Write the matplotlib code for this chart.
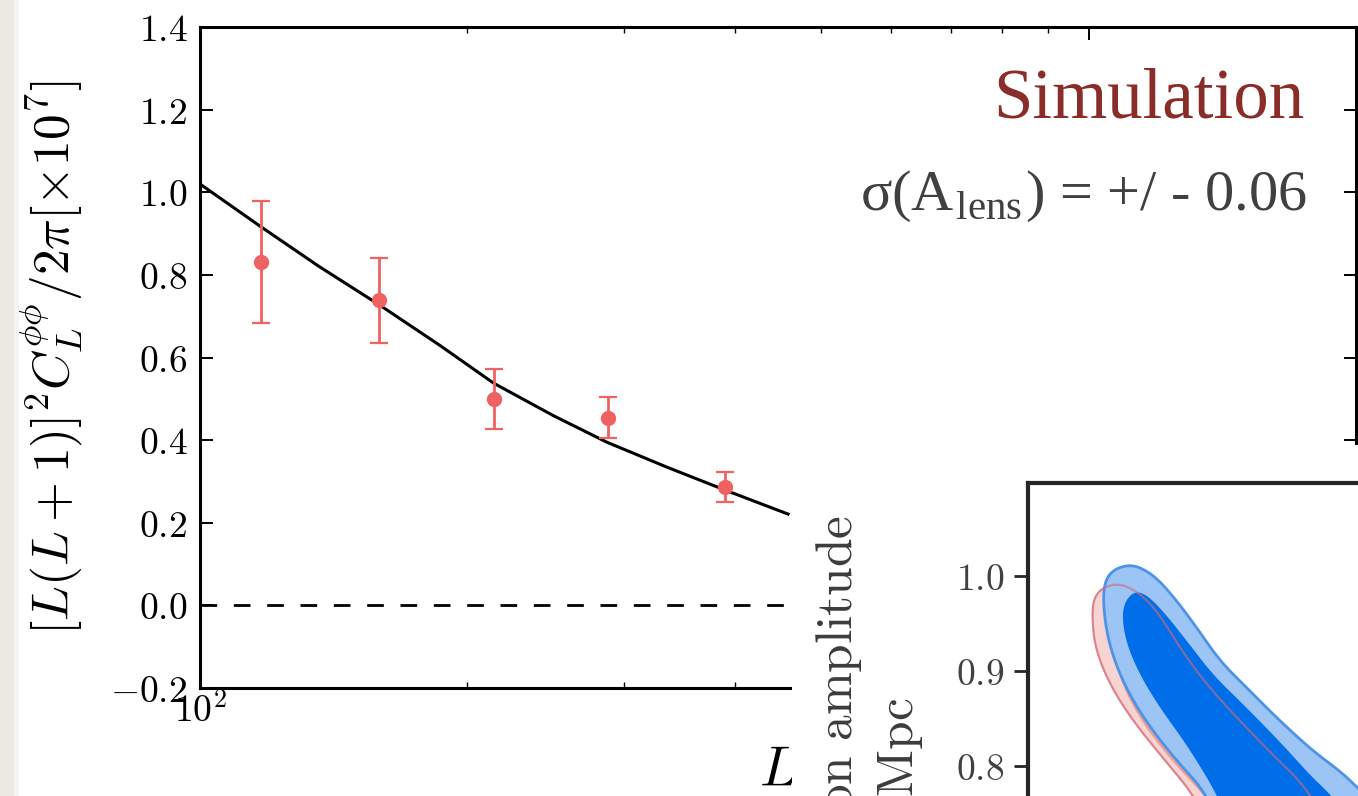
import numpy as np
import matplotlib
matplotlib.use('Agg')
import matplotlib.pyplot as plt
from matplotlib.patches import Rectangle
from matplotlib.ticker import FuncFormatter, LogLocator, NullFormatter, MultipleLocator

plt.rcParams['mathtext.fontset'] = 'cm'

# lensing power spectrum bandpowers (x 1e7)
ell_bins = [117, 159, 214, 288, 390]
clpp_bins = [0.831, 0.739, 0.500, 0.454, 0.287]
clpp_err = [0.147, 0.103, 0.073, 0.050, 0.037]

# theory curve
ell_theory = [100, 117, 136, 159, 186, 214, 250, 287, 335, 390, 459]
clpp_theory = [1.020, 0.917, 0.821, 0.728, 0.630, 0.538, 0.459, 0.395, 0.335, 0.279, 0.221]

# inset: contour outlines (Omega_m-like x, sigma_8 y)
blue95_x = [0.2895, 0.2745, 0.2625, 0.2525, 0.2445, 0.2395, 0.2375, 0.2385, 0.2425, 0.2495,
            0.2560, 0.2645, 0.2745, 0.2845, 0.2960, 0.3095, 0.3260, 0.3425, 0.3560, 0.3650, 0.396, 0.301]
blue95_y = [0.7705, 0.8053, 0.8368, 0.8684, 0.9032, 0.9379, 0.9737, 0.9947, 1.0063, 1.0116,
            1.0095, 0.9979, 0.9737, 0.9453, 0.9105, 0.8821, 0.8474, 0.8158, 0.7947, 0.7768, 0.7137, 0.7137]
blue68_x = [0.2945, 0.2795, 0.2660, 0.2560, 0.2495, 0.2470, 0.2485, 0.2535, 0.2595, 0.2675,
            0.2795, 0.2925, 0.3095, 0.3275, 0.3410, 0.3510, 0.366, 0.301]
blue68_y = [0.7705, 0.8221, 0.8611, 0.8958, 0.9274, 0.9558, 0.9737, 0.9842, 0.9800, 0.9632,
            0.9316, 0.8958, 0.8611, 0.8221, 0.7905, 0.7705, 0.7347, 0.7347]
pink95_x = [0.2825, 0.2675, 0.2525, 0.2410, 0.2335, 0.2320, 0.2330, 0.2370, 0.2435, 0.2495,
            0.2575, 0.2660, 0.2760, 0.2895, 0.3060, 0.3225, 0.3395, 0.350, 0.291]
pink95_y = [0.7705, 0.8084, 0.8474, 0.8853, 0.9242, 0.9589, 0.9768, 0.9874, 0.9916, 0.9895,
            0.9790, 0.9589, 0.9242, 0.8853, 0.8474, 0.8116, 0.7768, 0.7347, 0.7347]
pink68_x = [0.2875, 0.2705, 0.2565, 0.2470, 0.2430, 0.2450, 0.2540, 0.2625, 0.2790, 0.3000, 0.3250, 0.340, 0.300]
pink68_y = [0.7705, 0.8084, 0.8474, 0.8853, 0.9168, 0.9453, 0.9632, 0.9505, 0.9032, 0.8474, 0.7947, 0.7347, 0.7347]

W, H = 1358, 796


def px_rect(x0, y0, x1, y1):
    return [x0 / W, 1 - y1 / H, (x1 - x0) / W, (y1 - y0) / H]


def smooth_closed(xs, ys, n=3):
    # chaikin corner cutting, just to round off the traced outlines
    p = np.column_stack([xs, ys])
    for _ in range(n):
        nxt = np.roll(p, -1, axis=0)
        q = 0.75 * p + 0.25 * nxt
        r = 0.25 * p + 0.75 * nxt
        p = np.empty((2 * len(q), 2))
        p[0::2] = q
        p[1::2] = r
    return p[:, 0], p[:, 1]


fig = plt.figure(figsize=(W / 100, H / 100), dpi=100)

# slide edge on the left
fig.add_artist(Rectangle((0, 0), 14 / W, 1, transform=fig.transFigure,
                         facecolor='#ebe8e2', edgecolor='none', zorder=0.5))
fig.add_artist(Rectangle((14 / W, 0), 5 / W, 1, transform=fig.transFigure,
                         facecolor='#f6f4f0', edgecolor='none', zorder=0.5))

# main lensing spectrum panel
ax = fig.add_axes(px_rect(200, 27, 1356, 688))
ax.set_xscale('log')
ax.set_xlim(100, 2000)
ax.set_ylim(-0.2, 1.4)
ax.plot(ell_theory, clpp_theory, color='k', lw=2.2, zorder=3, solid_joinstyle='round')
ax.axhline(0, color='k', lw=2.0, dashes=(6, 6))
ax.errorbar(ell_bins, clpp_bins, yerr=clpp_err, fmt='o', color='#ef6262', ms=10,
            elinewidth=2.0, capsize=6.5, capthick=1.6, zorder=4)

for s in ax.spines.values():
    s.set_linewidth(2.2)
ax.yaxis.set_major_locator(MultipleLocator(0.2))
ax.yaxis.set_major_formatter(FuncFormatter(lambda v, p: f'${v:.1f}$'))
ax.xaxis.set_major_locator(LogLocator(base=10))
ax.xaxis.set_major_formatter(FuncFormatter(lambda v, p: rf'$10^{{{int(round(np.log10(v)))}}}$'))
ax.xaxis.set_minor_locator(LogLocator(base=10, subs=range(2, 10)))
ax.xaxis.set_minor_formatter(NullFormatter())
ax.tick_params(which='both', direction='in', top=True, right=True)
ax.tick_params(which='major', length=9, width=1.4, labelsize=27)
ax.tick_params(which='minor', length=4, width=1.0)
ax.tick_params(axis='y', pad=9)
ax.tick_params(axis='x', pad=3)

ax.set_ylabel(r'$[L(L+1)]^2C_L^{\phi\phi}/2\pi[\times10^7]$', fontsize=37)
ax.yaxis.set_label_coords((50 - 200) / 1156, 0.5)
ax.yaxis.label.set_va('center')
ax.set_xlabel(r'$L$', fontsize=40)
ax.xaxis.set_label_coords(0.5, (688 - 771) / 661)
ax.xaxis.label.set_va('center')

# white overlay of the slide
fig.add_artist(Rectangle((792 / W, 0), (W - 792) / W, (H - 445) / H, transform=fig.transFigure,
                         facecolor='white', edgecolor='none', zorder=1))

fig.text(1305 / W, 1 - 118 / H, 'Simulation', ha='right', va='baseline', color='#8a2c27',
         fontsize=51, family='Liberation Serif', zorder=3)
fig.text(1307 / W, 1 - 210 / H, r'σ(A$_{\mathregular{lens}}$) = +/ - 0.06', ha='right', va='baseline',
         color='#404040', fontsize=42, family='Liberation Serif', zorder=3)

fig.text(838 / W, 1 - 515 / H, r'$\mathrm{Matter\ fluctuation\ amplitude}$', rotation=90,
         ha='center', va='top', fontsize=37, color='#3c3c3c', zorder=3)
fig.text(900 / W, 1 - 698 / H, r'$\mathrm{at\ 8\ Mpc}$', rotation=90,
         ha='center', va='top', fontsize=37, color='#3c3c3c', zorder=3)

# inset contour panel (extends past the slide edge)
axi = fig.add_axes(px_rect(1028, 483, 1628, 1051))
axi.set_zorder(2)
axi.set_xlim(0.2, 0.5)
axi.set_ylim(0.5, 1.098)
px95, py95 = smooth_closed(pink95_x, pink95_y)
px68, py68 = smooth_closed(pink68_x, pink68_y)
bx95, by95 = smooth_closed(blue95_x, blue95_y)
bx68, by68 = smooth_closed(blue68_x, blue68_y)
axi.fill(px95, py95, facecolor='#f7d3d1', edgecolor='#eca8a3', lw=1.2, zorder=1)
axi.fill(px68, py68, facecolor='#ee9d96', edgecolor='none', zorder=1.1)
axi.fill(bx95, by95, facecolor='#9cc4f5', edgecolor='#4d94e8', lw=2.0, zorder=2)
axi.fill(bx68, by68, facecolor='#006ee8', edgecolor='none', zorder=3)
axi.plot(np.append(px95, px95[0]), np.append(py95, py95[0]), color='#d06a7a', lw=1.6,
         alpha=0.6, zorder=4)
for s in axi.spines.values():
    s.set_linewidth(3)
    s.set_color('#262626')
axi.set_xticks([])
axi.yaxis.set_major_locator(MultipleLocator(0.1))
axi.yaxis.set_major_formatter(FuncFormatter(lambda v, p: f'${v:.1f}$'))
axi.tick_params(axis='y', direction='out', length=10, width=2, colors='#262626',
                labelcolor='#404040', labelsize=27, pad=7)

fig.savefig('out.png', dpi=100)
